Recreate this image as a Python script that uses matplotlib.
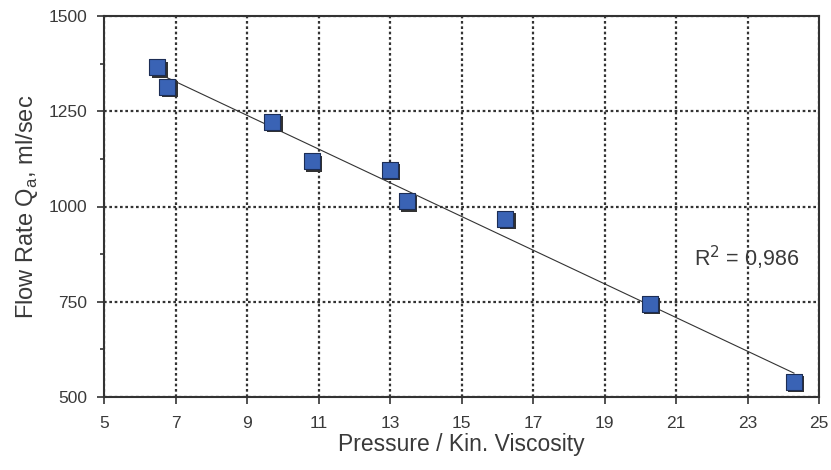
import numpy as np
import matplotlib
matplotlib.use("Agg")
import matplotlib.pyplot as plt
import matplotlib.transforms as mtransforms

plt.rcParams['font.family'] = ['Liberation Sans', 'DejaVu Sans']

# data
pressure = [6.49, 6.77, 9.71, 10.81, 12.99, 13.47, 16.22, 20.26, 24.30]
flow_rate = [1366, 1314, 1222, 1119, 1096, 1014, 968, 745, 540]
x_ticks = [5, 7, 9, 11, 13, 15, 17, 19, 21, 23, 25]
y_ticks = [500, 750, 1000, 1250, 1500]
r2_text = "R$^2$ = 0,986"

fig = plt.figure(figsize=(8.31, 4.70), dpi=100)
ax = fig.add_axes([104/831, 1 - 397/470, 715/831, 381/470])

xs = np.array(pressure)
ys = np.array(flow_rate)

# linear trendline
b1, b0 = np.polyfit(xs, ys, 1)
xl = np.array([xs.min(), xs.max()])
ax.plot(xl, b0 + b1*xl, color="#333333", lw=0.8, zorder=3)

# marker shadow then marker
shadow = mtransforms.offset_copy(ax.transData, fig=fig, x=2.5, y=-2.5, units='dots')
ax.scatter(xs, ys, s=120, marker='s', color="#333333", transform=shadow, zorder=4, linewidths=0)
ax.scatter(xs, ys, s=120, marker='s', color="#3a63b5", edgecolors="#1c2d55", linewidths=0.8, zorder=5)

ax.set_xlim(5, 25)
ax.set_ylim(500, 1500)
ax.set_xticks(x_ticks)
ax.set_yticks(y_ticks)
ax.set_yticks([625, 875, 1125, 1375], minor=True)
ax.grid(True, which='major', linestyle=(0, (1.2, 1.2)), color="#333333", lw=1.6)
ax.set_axisbelow(True)

for s in ax.spines.values():
    s.set_color("#333333")
    s.set_linewidth(1.5)

txt = "#3a3a3a"
ax.tick_params(axis='both', which='major', direction='out', length=5, width=1.2,
               color="#333333", labelsize=12.5, labelcolor=txt)
ax.tick_params(axis='y', which='minor', direction='out', length=3, width=1.2, color="#333333")
ax.tick_params(axis='x', pad=9)
ax.tick_params(axis='y', pad=7)

ax.set_xlabel("Pressure / Kin. Viscosity", fontsize=16.5, color=txt, labelpad=1)
ax.set_ylabel("Flow Rate Q$_\\mathregular{a}$, ml/sec", fontsize=17, color=txt, labelpad=6)

ax.text(21.5, 843, r2_text, fontsize=15.5, color=txt)

plt.savefig("out.png", dpi=100)
